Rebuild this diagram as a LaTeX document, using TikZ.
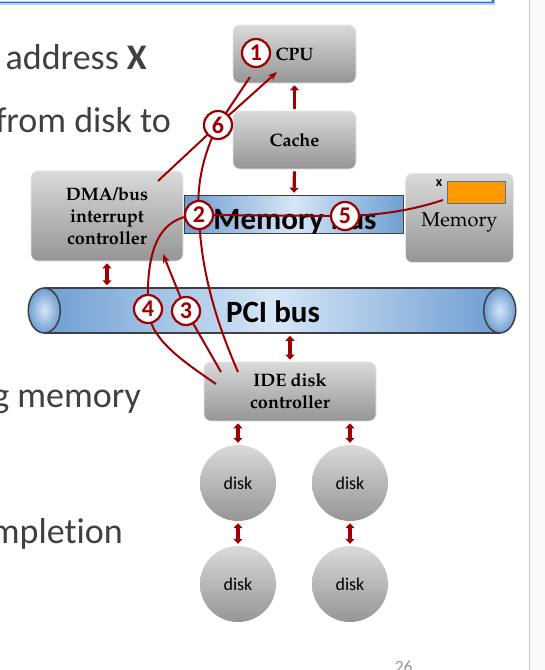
\documentclass[tikz,border=0pt]{standalone}
\usepackage[T1]{fontenc}
\usepackage{fontspec}
\setmainfont[Ligatures={NoCommon,NoContextual}]{Carlito}
\usepackage{tikz}
\usetikzlibrary{arrows.meta,positioning,calc}
\usepackage{xcolor}
\definecolor{darkred}{HTML}{9C0000}
\definecolor{boxtop}{HTML}{DADADA}
\definecolor{boxbot}{HTML}{959595}
\definecolor{busdark}{HTML}{6E9ED3}
\definecolor{buslight}{HTML}{D6E6F6}
\definecolor{busline}{HTML}{404040}
\definecolor{slidetext}{HTML}{404040}
\definecolor{frameblue}{HTML}{1F74E8}
\definecolor{glowblue}{HTML}{B5D0F5}
\definecolor{sidebg}{HTML}{F8F9FB}
\definecolor{bufferorange}{HTML}{FF9900}
\definecolor{bufferline}{HTML}{5B7290}
\newcommand\pal{\fontencoding{T1}\fontfamily{ppl}\selectfont}

\begin{document}
\begin{tikzpicture}[x=1pt, y=-1pt,
    box/.style={rounded corners=7pt, top color=boxtop, bottom color=boxbot, draw=gray!20,
      line width=0.6pt, inner sep=0pt, align=center, font=\pal\bfseries\fontsize{18}{22}\selectfont},
    disk/.style={circle, minimum size=76pt, inner sep=0pt, top color=boxtop, bottom color=boxbot,
      font=\fontsize{18}{20}\selectfont},
    bus/.style={draw=busline, line width=1.5pt, inner sep=0pt, left color=busdark, right color=busdark,
      middle color=buslight},
    stepnum/.style={circle, draw=darkred, line width=2.2pt, fill=white, minimum size=28pt, inner sep=0pt,
      text=darkred, font=\bfseries\fontsize{24}{24}\selectfont},
    link/.style={draw=darkred, line width=2pt},
    fat/.style={draw=darkred, line width=3.2pt, shorten <=2pt, shorten >=2pt},
    slide/.style={inner sep=0pt, text=slidetext, font=\fontsize{36}{40}\selectfont}]
    \useasboundingbox (0,0) rectangle (545,670);
    \clip (0,0) rectangle (545,670);

    % slide around the picture
    \draw[glowblue, line width=4pt] (-10,-10) rectangle (493,2.5);
    \draw[frameblue, line width=1.2pt] (-10,-10) rectangle (493,2.5);
    \fill[sidebg] (529.5,0) rectangle (545,670);
    \draw[gray!45, line width=1pt] (529,0) -- (529,670);
    \node[slide, anchor=base east] (line1) at (147,69) {address \textbf{X}};
    \node[slide, anchor=base east] (line2) at (171,132) {from disk to};
    \node[slide, anchor=base east] (line3) at (141,407) {g memory};
    \node[slide, anchor=base east] (line4) at (123,543) {mplet\kern0pt ion};
    \node[anchor=base west, inner sep=0pt, text=gray!85, font=\fontsize{17}{17}\selectfont] (page) at (395,672) {26};

    % buses
    \node[bus, minimum width=219pt, minimum height=38pt] (membus) at (294,214.5) {};
    \node[bus, minimum width=454pt, minimum height=45pt] (pci) at (272,310.5) {};
    \foreach \e in {west,east}
      \draw[busline, line width=1.5pt, inner color=buslight, outer color=busdark]
        (pci.\e) ellipse [x radius=16pt, y radius=22.5pt];
    \node[font=\bfseries\fontsize{31}{31}\selectfont] (pcilabel) at (273,312) {PCI bus};
    \node[anchor=base, inner sep=0pt, font=\bfseries\fontsize{31}{31}\selectfont] (memlabel) at (295,229.5) {Memory bus};

    % boxes
    \node[box, minimum width=123pt, minimum height=58pt] (cpu) at (294.5,54) {CPU};
    \node[box, minimum width=123pt, minimum height=58pt] (cache) at (294.5,140) {Cache};
    \node[box, minimum width=152pt, minimum height=90pt] (dma) at (107,216) {DMA/bus\\interrupt\\controller};
    \node[box, minimum width=108pt, minimum height=89pt] (mem) at (459.5,218) {};
    \node[font=\pal\fontsize{20}{22}\selectfont, inner sep=0pt, anchor=base] (memtext) at (459.5,226) {Memory};
    \node[draw=bufferline, line width=1pt, fill=bufferorange, minimum width=58pt, minimum height=22pt, inner sep=0pt] (buffer) at (476,192) {};
    \node[font=\bfseries\fontsize{14}{14}\selectfont, inner sep=0pt] (xlabel) at (439,183) {x};
    \node[box, minimum width=172pt, minimum height=59pt] (ide) at (290,391.5) {IDE disk\\controller};
    \node[disk] (d1) at (238,483) {disk};
    \node[disk] (d2) at (350,483) {disk};
    \node[disk] (d3) at (238,584) {disk};
    \node[disk] (d4) at (350,584) {disk};

    % thick arrows
    \draw[fat, -{Triangle[width=9pt,length=5pt]}] (cache.north) -- (cpu.south);
    \draw[fat, -{Triangle[width=9pt,length=5pt]}] (cache.south) -- (membus.north);
    \draw[fat, {Triangle[width=9pt,length=5pt]}-{Triangle[width=9pt,length=5pt]}] (dma.south) -- (dma.south |- pci.north);
    \draw[fat, {Triangle[width=9pt,length=5pt]}-{Triangle[width=9pt,length=5pt]}] (ide.north |- pci.south) -- (ide.north);
    \foreach \a/\b in {d1/d3,d2/d4} {
      \draw[fat, {Triangle[width=9pt,length=5pt]}-{Triangle[width=9pt,length=5pt]}] (\a |- ide.south) -- (\a.north);
      \draw[fat, {Triangle[width=9pt,length=5pt]}-{Triangle[width=9pt,length=5pt]}] (\a.south) -- (\b.north);
    }

    % numbered steps
    \coordinate (c1) at (256,53);
    \coordinate (c2) at (199,215);
    \coordinate (c3) at (186,311);
    \coordinate (c4) at (148,309);
    \coordinate (c5) at (345,216);
    \coordinate (c6) at (218,125);
    \coordinate (cpuout) at (250,77);
    \coordinate (cpuin) at (277,72);
    \coordinate (dmaout) at (158,181);
    \coordinate (dmain) at (163,254);
    \coordinate (idea) at (238,372);
    \coordinate (ideb) at (221,372);
    \coordinate (idec) at (216,384);
    \coordinate (bufin) at (443,200);
    \draw[link] (cpuout) -- (c6) .. controls (204,152) and (196,185) .. (c2)
      .. controls (201,280) and (222,335) .. (idea);
    \draw[link, -{Stealth[length=9pt,width=7pt]}] (dmaout) -- (c6) -- (cpuin);
    \draw[link, -{Stealth[length=9pt,width=7pt]}] (ideb) -- (c3) -- (dmain);
    \draw[link] (idec) .. controls (178,358) and (150,338) .. (c4)
      .. controls (146,250) and (158,216) .. (c2) -- (c5)
      .. controls (390,215) and (422,207) .. (bufin);
    \foreach \n in {1,...,6}
      \node[stepnum] (s\n) at (c\n) {\n};
\end{tikzpicture}
\end{document}
